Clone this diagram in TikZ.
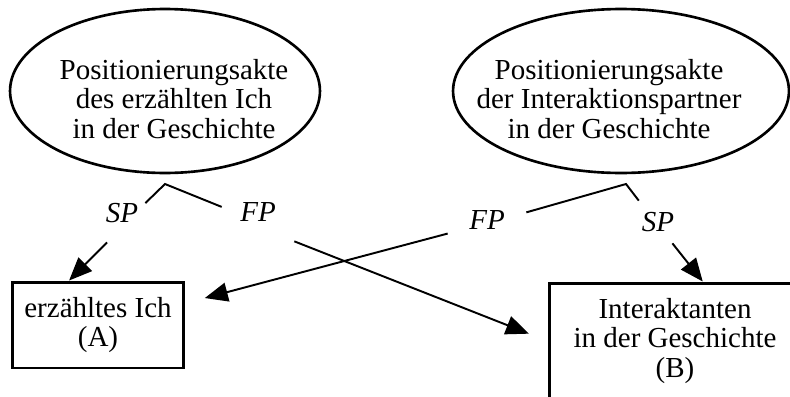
\documentclass[tikz,border=0pt]{standalone}
\usepackage{fontspec}
\setmainfont{Liberation Serif}
\usetikzlibrary{shapes.geometric,arrows.meta}

\begin{document}
\begin{tikzpicture}[x=0.02cm,y=0.02cm]
\tikzstyle{every node}+=[inner sep=0pt, font=\fontsize{16.5}{16.8}\selectfont]
\tikzstyle{ell}=[draw, ellipse, line width=1.5pt, minimum height=3.28cm]
\tikzstyle{box}=[draw, rectangle, line width=1.7pt, align=center]
\tikzstyle{lbl}=[font=\fontsize{16.5}{16.8}\selectfont\itshape, minimum width=0.92cm, minimum height=1.16cm]
\tikzstyle{leg}=[line width=1.1pt]
\tikzstyle{arr}=[-{Triangle[length=0.46cm,width=0.38cm]}, line width=1.1pt]
\clip (0,0) rectangle (790,-396);
\draw [black] (165,-91) node (actL) [ell, minimum width=6.2cm] {};
\draw (174,-99) node (actLtext) [align=center] {Positionierungsakte\\des erzählten Ich\\in der Geschichte};
\draw [black] (621,-91) node (actR) [ell, minimum width=6.72cm] {};
\draw (609,-99) node (actRtext) [align=center] {Positionierungsakte\\der Interaktionspartner\\in der Geschichte};
\draw [black] (98,-325) node (boxA) [box, minimum width=3.44cm, minimum height=1.72cm] {erzähltes Ich\\(A)};
\draw [black] (675,-341) node (boxB) [box, minimum width=5.04cm, minimum height=2.32cm] {Interaktanten\\in der Geschichte\\(B)};
\coordinate (apexL) at (165,-184);
\coordinate (apexR) at (626,-184);
\draw (122,-213) node (spL) [lbl] {SP};
\draw (258,-212) node (fpL) [lbl, minimum width=1.44cm] {FP};
\draw (487,-220) node (fpR) [lbl, minimum width=1.56cm] {FP};
\draw (658,-222) node (spR) [lbl, minimum height=0.84cm] {SP};
\draw [black, leg] (spL.23) -- (apexL) -- (fpL.172);
\draw [black, leg] (fpR.11) -- (apexR) -- (spR.132);
\draw [black, arr] (spL.243) -- (boxA.123);
\draw [black, arr, shorten >=0.4cm] (fpL.south east) -- (boxB.west);
\draw [black, arr, shorten >=0.4cm] (fpR.199) -- (boxA.14);
\draw [black, arr] (spR.304) -- (boxB.65);
\end{tikzpicture}
\end{document}
